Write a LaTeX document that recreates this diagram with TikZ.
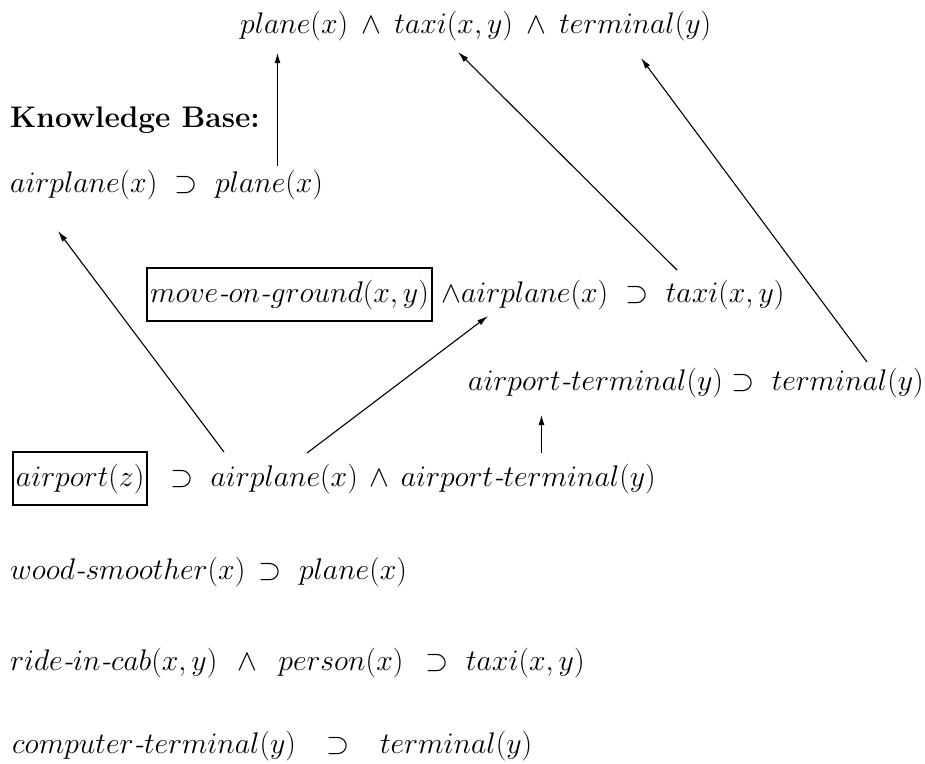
\RequirePackage{fix-cm}
\documentclass[tikz,border=0pt]{standalone}
\usetikzlibrary{arrows.meta}
\newcommand{\hy}{\textit{-}}
\tikzset{
  lbl/.style={anchor=base west, inner sep=0pt, font=\fontsize{29.8}{36}\selectfont},
  boxed/.style={draw, line width=2pt, inner xsep=3pt, inner ysep=11.5pt, anchor=base west, font=\fontsize{29.8}{36}\selectfont},
  arr/.style={-{Latex[length=11pt,width=6pt]}, line width=1.1pt},
  varr/.style={arr, line width=1.8pt}
}
\begin{document}
\begin{tikzpicture}[x=1pt,y=-1pt]
\useasboundingbox (0,0) rectangle (925,763);
\node[lbl] (goal) at (240,33) {$plane(x)\:\wedge\:taxi(x,y)\:\wedge\:terminal(y)$};
\node[lbl] (kb) at (10,127) {\textbf{Knowledge Base:}};
\node[lbl] (r1) at (10,192) {$airplane(x)\ \supset\ plane(x)$};
\node[boxed] (mog) at (146,302) {$move\hy on\hy ground(x,y)$};
\node[lbl] (r2) at (441,302) {$\wedge airplane(x)\ \supset\ taxi(x,y)$};
\node[lbl] (r3) at (468,390) {$airport\hy terminal(y) \supset\ terminal(y)$};
\node[boxed] (apt) at (12,486) {$airport(z)$};
\node[lbl] (r4) at (170,486) {$\supset\ airplane(x)\,\wedge\,airport\hy terminal(y)$};
\node[lbl] (r5) at (10,579) {$wood\hy smoother(x)\,\supset\ plane(x)$};
\node[lbl] (r6) at (10,670) {$ride\hy in\hy cab(x,y)\ \,\wedge\ \,person(x)\ \,\supset\ taxi(x,y)$};
\node[lbl] (r7) at (12,753) {$computer\hy terminal(y)\ \;\,\supset\ \;\,terminal(y)$};
% connector ends
\coordinate (a1s) at (277.5,166);
\coordinate (a1e) at (277.5,52);
\coordinate (a2s) at (677,270);
\coordinate (a2e) at (458,52);
\coordinate (a3s) at (867,362);
\coordinate (a3e) at (641,58);
\coordinate (a4s) at (224,452);
\coordinate (a4e) at (58,231);
\coordinate (a5s) at (307,453);
\coordinate (a5e) at (488,316);
\coordinate (a6s) at (541.5,453);
\coordinate (a6e) at (541.5,414);
\draw[varr] (a1s) -- (a1e);
\draw[arr] (a2s) -- (a2e);
\draw[arr] (a3s) -- (a3e);
\draw[arr] (a4s) -- (a4e);
\draw[arr] (a5s) -- (a5e);
\draw[varr] (a6s) -- (a6e);
\end{tikzpicture}
\end{document}
